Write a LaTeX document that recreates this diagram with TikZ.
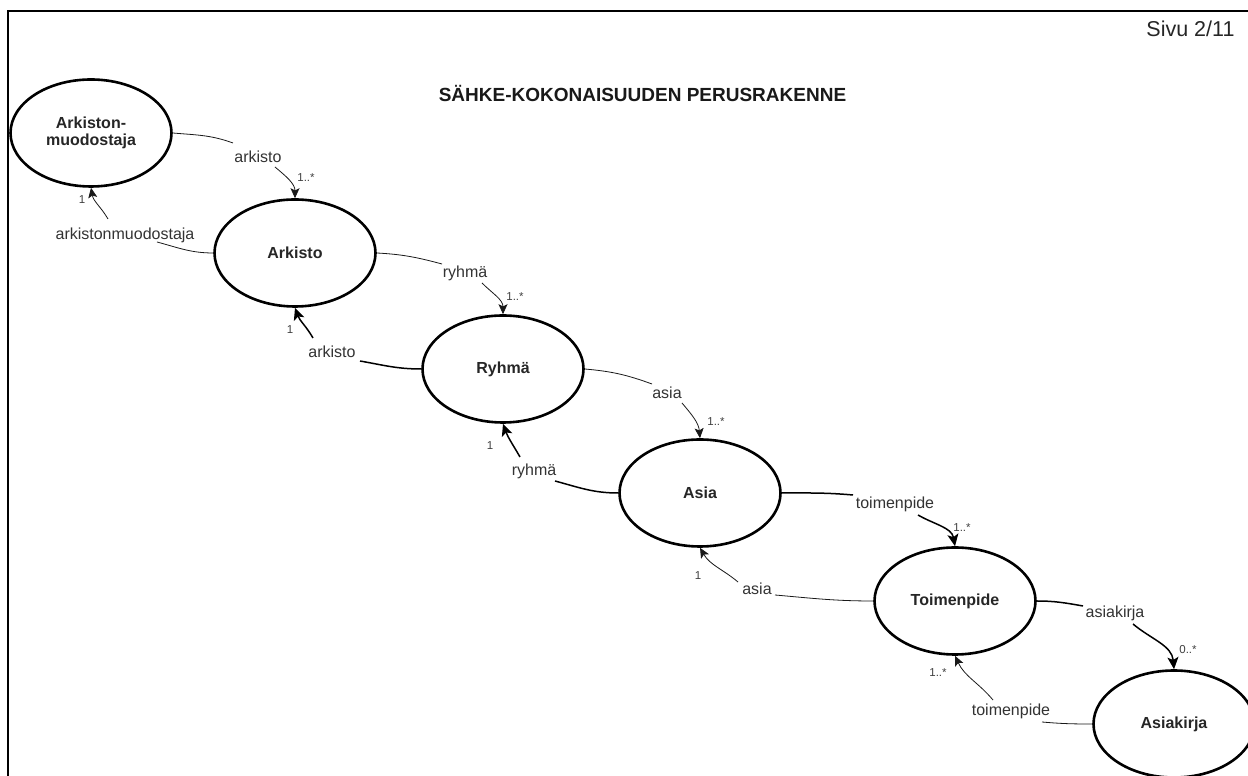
\documentclass[tikz,border=0pt]{standalone}
\usepackage{fontspec}
\setmainfont{Liberation Sans}
\usetikzlibrary{arrows.meta,shapes.geometric}
\begin{document}
\begin{tikzpicture}[x=1pt,y=1pt,
  ent/.style={ellipse, draw, line width=2.6pt, minimum width=161pt, minimum height=107pt, inner sep=0pt, align=center, font=\fontsize{16}{17}\selectfont\bfseries, text=black!85},
  rel/.style={inner sep=1pt, font=\fontsize{16}{19}\selectfont, text=black!80},
  mult/.style={inner sep=1pt, font=\fontsize{11.5}{13}\selectfont, text=black!75},
  thinln/.style={line width=0.8pt, black!90},
  thickln/.style={line width=1.5pt},
  thinarr/.style={thinln, -{Stealth[length=10pt,width=9pt,inset=2.2pt]}},
  thickarr/.style={thickln, -{Stealth[length=12pt,width=11pt,inset=2.8pt]}},
]
\useasboundingbox (0,0) rectangle (1248,776);
\clip (0,0) rectangle (1248,776);
\fill[white] (0,0) rectangle (1248,776);

% frame
\draw[line width=2.2pt] (8,-5) -- (8,765) -- (1260,765);

% headings
\node[font=\fontsize{21.5}{24}\selectfont, anchor=base east, text=black!85] (page) at (1238,739) {Sivu 2/11};
\node[font=\fontsize{19}{22}\selectfont\bfseries, anchor=base, text=black!90] (title) at (642.5,674) {SÄHKE-KOKONAISUUDEN PERUSRAKENNE};

% entities
\node[ent] (A1) at (91,643) {Arkiston-\\muodostaja};
\node[ent] (B)  at (295,523) {Arkisto};
\node[ent] (C)  at (503,407) {Ryhmä};
\node[ent] (D)  at (700,283) {Asia};
\node[ent] (E)  at (955,175) {Toimenpide};
\node[ent] (F)  at (1174,52) {Asiakirja};

% role labels
\node[rel] (l1f) at (258,619.5) {arkisto};
\node[rel] (l1b) at (125,541) {arkistonmuodostaja};
\node[rel] (l2f) at (465,503) {ryhmä};
\node[rel] (l2b) at (332,424) {arkisto};
\node[rel] (l3f) at (667,383) {asia};
\node[rel] (l3b) at (534,305) {ryhmä};
\node[rel] (l4f) at (895,272) {toimenpide};
\node[rel] (l4b) at (757,187) {asia};
\node[rel] (l5f) at (1115,163) {asiakirja};
\node[rel] (l5b) at (1011,65) {toimenpide};

% multiplicities
\node[mult] (m1f) at (306,598) {1..*};
\node[mult] (m1b) at (82,576) {1};
\node[mult] (m2f) at (515,479) {1..*};
\node[mult] (m2b) at (290,446) {1};
\node[mult] (m3f) at (716,354) {1..*};
\node[mult] (m3b) at (490,330) {1};
\node[mult] (m4f) at (962,248) {1..*};
\node[mult] (m4b) at (698,200) {1};
\node[mult] (m5f) at (1188,126) {0..*};
\node[mult] (m5b) at (938,103) {1..*};

% Arkistonmuodostaja <-> Arkisto
\draw[thinln] (A1.east) to[out=-5,in=160] ([shift={(-25,13.5)}]l1f.center);
\draw[thinarr] ([shift={(17,-10.5)}]l1f.center) to[out=-40,in=90] (B.north);
\draw[thinln] (B.west) to[out=180,in=-15] ([shift={(32,-7)}]l1b.center);
\draw[thinarr] ([shift={(-17,16)}]l1b.center) to[out=120,in=-80] (A1.south);

% Arkisto <-> Ryhma
\draw[thinln] (B.east) to[out=-3,in=165] ([shift={(-23,9)}]l2f.center);
\draw[thinarr] ([shift={(17,-10)}]l2f.center) to[out=-45,in=90] (C.north);
\draw[thickln] (C.west) to[out=180,in=-10] ([shift={(28,-9)}]l2b.center);
\draw[thickarr] ([shift={(-19,14)}]l2b.center) to[out=120,in=-70] (B.south);

% Ryhma <-> Asia
\draw[thinln] (C.east) to[out=-5,in=160] ([shift={(-15,9)}]l3f.center);
\draw[thinarr] ([shift={(15,-10)}]l3f.center) to[out=-50,in=95] (D.north);
\draw[thickln] (D.west) to[out=180,in=-15] ([shift={(21,-10)}]l3b.center);
\draw[thickarr] ([shift={(-14,14)}]l3b.center) to[out=120,in=-70] (C.south);

% Asia <-> Toimenpide
\draw[thickln] (D.east) to[out=0,in=175] ([shift={(-42,9)}]l4f.center);
\draw[thickarr] ([shift={(23,-11)}]l4f.center) to[out=-30,in=100] (E.north);
\draw[thinln] (E.west) to[out=180,in=-5] ([shift={(18,-6)}]l4b.center);
\draw[thinarr] ([shift={(-19,7)}]l4b.center) to[out=140,in=-60] (D.south);

% Toimenpide <-> Asiakirja
\draw[thickln] (E.east) to[out=0,in=170] ([shift={(-32,7)}]l5f.center);
\draw[thickarr] ([shift={(18,-11)}]l5f.center) to[out=-40,in=95] (F.north);
\draw[thinln] (F.west) to[out=180,in=-5] ([shift={(31,-11)}]l5b.center);
\draw[thinarr] ([shift={(-18,11)}]l5b.center) to[out=130,in=-65] (E.south);
\end{tikzpicture}
\end{document}
